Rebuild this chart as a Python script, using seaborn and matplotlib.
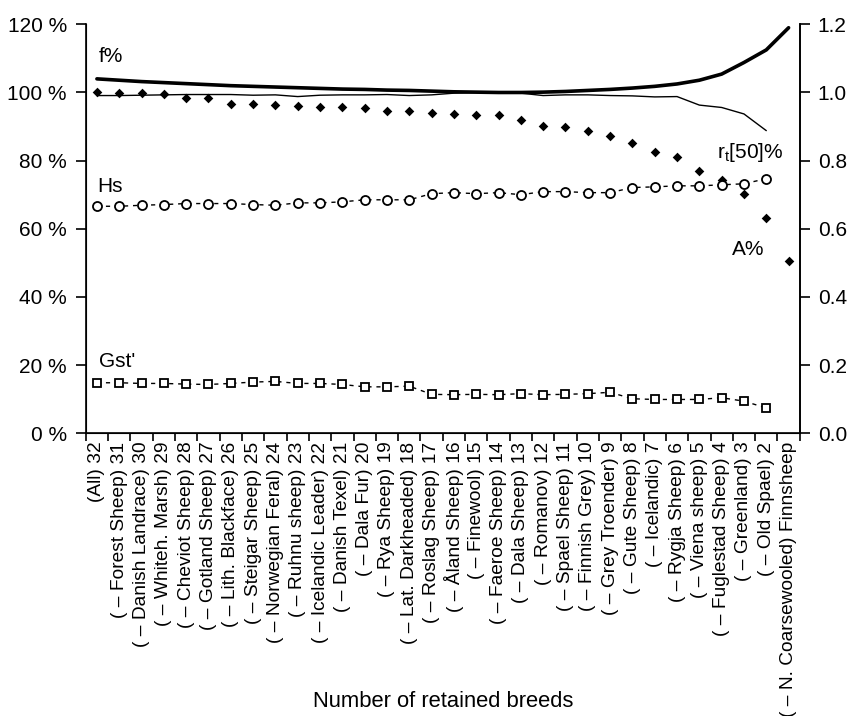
import numpy as np
import matplotlib
matplotlib.use("Agg")
import matplotlib.pyplot as plt
import seaborn as sns

# breeds removed step by step, left to right
breeds = ["(All) 32", "( – Forest Sheep) 31", "( – Danish Landrace) 30", "( – Whiteh. Marsh) 29",
          "( – Cheviot Sheep) 28", "( – Gotland Sheep) 27", "( – Lith. Blackface) 26",
          "( – Steigar Sheep) 25", "( – Norwegian Feral) 24", "( – Ruhnu sheep) 23",
          "( – Icelandic Leader) 22", "( – Danish Texel) 21", "( – Dala Fur) 20",
          "( – Rya Sheep) 19", "( – Lat. Darkheaded) 18", "( – Roslag Sheep) 17",
          "( – Åland Sheep) 16", "( – Finewool) 15", "( – Faeroe Sheep) 14",
          "( – Dala Sheep) 13", "( – Romanov) 12", "( – Spael Sheep) 11",
          "( – Finnish Grey) 10", "( – Grey Troender) 9", "( – Gute Sheep) 8",
          "( – Icelandic) 7", "( – Rygja Sheep) 6", "( – Viena sheep) 5",
          "( – Fuglestad Sheep) 4", "( – Greenland) 3", "( – Old Spael) 2",
          "( – N. Coarsewooled) Finnsheep"]

f_pct = [104.0, 103.6, 103.2, 102.9, 102.6, 102.3, 102.0, 101.8, 101.6, 101.4, 101.2,
         101.0, 100.9, 100.7, 100.6, 100.4, 100.2, 100.1, 100.0, 100.0, 100.1, 100.3,
         100.6, 100.9, 101.3, 101.8, 102.5, 103.6, 105.4, 108.8, 112.5, 119.0]
rt50_pct = [99.1, 99.1, 99.2, 99.3, 99.4, 99.4, 99.4, 99.2, 99.3, 98.8, 99.2, 99.3,
            99.3, 99.4, 99.1, 99.3, 99.8, 100.0, 100.0, 99.8, 99.1, 99.3, 99.3, 99.1,
            99.0, 98.7, 98.8, 96.3, 95.6, 93.7, 88.8, np.nan]
a_pct = [100.0, 99.8, 99.8, 99.6, 98.4, 98.4, 96.7, 96.7, 96.3, 95.9, 95.6, 95.6,
         95.3, 94.6, 94.6, 94.0, 93.8, 93.3, 93.3, 91.8, 90.1, 89.8, 88.8, 87.2,
         85.2, 82.4, 81.0, 77.1, 74.2, 70.3, 63.3, 50.5]
hs_pct = [66.6, 66.6, 66.9, 67.1, 67.4, 67.4, 67.4, 67.1, 66.9, 67.6, 67.6, 67.9,
          68.5, 68.5, 68.5, 70.3, 70.6, 70.3, 70.6, 70.0, 70.9, 70.9, 70.6, 70.6,
          72.1, 72.3, 72.6, 72.6, 72.9, 73.2, 74.7, np.nan]
gst_pct = [14.8, 14.8, 14.6, 14.6, 14.4, 14.3, 14.6, 15.0, 15.2, 14.6, 14.6, 14.3,
           13.6, 13.6, 13.8, 11.4, 11.3, 11.4, 11.3, 11.6, 11.3, 11.4, 11.6, 12.0,
           10.1, 9.9, 9.9, 9.9, 10.4, 9.4, 7.4, np.nan]

sns.set_style("ticks", {'text.color': 'black', 'axes.edgecolor': 'black',
                        'xtick.color': 'black', 'ytick.color': 'black',
                        'axes.labelcolor': 'black'})
plt.rcParams['font.family'] = ['Liberation Sans', 'DejaVu Sans']
plt.rcParams['font.size'] = 14

pos = np.arange(len(breeds))

fig = plt.figure(figsize=(8.49, 7.16), dpi=100)
ax = fig.add_axes([0.101, 0.395, 0.841, 0.571])

sns.lineplot(x=pos, y=f_pct, ax=ax, color='black', linewidth=2.6)
sns.lineplot(x=pos, y=rt50_pct, ax=ax, color='black', linewidth=1.0)
sns.scatterplot(x=pos, y=a_pct, ax=ax, color='black', marker='D', s=24, linewidth=0)

# dashed series with open markers and a dot in the middle
sns.lineplot(x=pos, y=hs_pct, ax=ax, color='black', linewidth=1.0, linestyle=(0, (3, 3.5)),
             marker='o', markersize=6.5, markerfacecolor='white', markeredgecolor='black',
             markeredgewidth=1.3)
sns.lineplot(x=pos, y=gst_pct, ax=ax, color='black', linewidth=1.0, linestyle=(0, (3, 3.5)),
             marker='s', markersize=6, markerfacecolor='white', markeredgecolor='black',
             markeredgewidth=1.3)
sns.scatterplot(x=pos, y=hs_pct, ax=ax, color='black', marker='o', s=2, linewidth=0)
sns.scatterplot(x=pos, y=gst_pct, ax=ax, color='black', marker='s', s=2, linewidth=0)

ax.set_xlim(-0.5, len(breeds) - 0.5)
ax.set_ylim(0, 120)
ax.set_yticks(range(0, 121, 20))
ax.set_yticklabels([f"{v} %" for v in range(0, 121, 20)], fontsize=15)
ax.set_xticks(pos)
ax.set_xticklabels(breeds, rotation=90, fontsize=13.8)
ax.set_xticks(np.arange(-0.5, len(breeds)), minor=True)
ax.tick_params(axis='x', which='major', length=0, pad=6)
ax.tick_params(axis='x', which='minor', length=6, width=1.2)
ax.tick_params(axis='y', length=7, width=1.2, pad=6.5)
ax.set_xlabel("Number of retained breeds", fontsize=15.8)
ax.xaxis.set_label_coords(0.5, -0.63)
ax.set_ylabel("")
for s in ['left', 'bottom', 'right']:
    ax.spines[s].set_linewidth(1.2)
ax.spines['top'].set_visible(False)

ax2 = ax.twinx()
ax2.set_ylim(0, 1.2)
ax2.set_yticks(np.arange(0, 1.21, 0.2))
ax2.set_yticklabels([f"{v:.1f}" for v in np.arange(0, 1.21, 0.2)], fontsize=15)
ax2.tick_params(axis='y', length=7, width=1.2, pad=6)
ax2.spines['top'].set_visible(False)
ax2.spines['right'].set_linewidth(1.2)

ax.text(0.1, 108.9, "f%", fontsize=15, ha='left', va='baseline')
ax.text(0.0, 70.7, "Hs", fontsize=15, ha='left', va='baseline')
ax.text(0.1, 19.4, "Gst'", fontsize=15, ha='left', va='baseline')
ax.text(30.77, 80.9, "r$_\\mathregular{t}$[50]%", fontsize=15, ha='right', va='baseline')
ax.text(29.9, 52.2, "A%", fontsize=15, ha='right', va='baseline')

fig.savefig("out.png", dpi=100)
